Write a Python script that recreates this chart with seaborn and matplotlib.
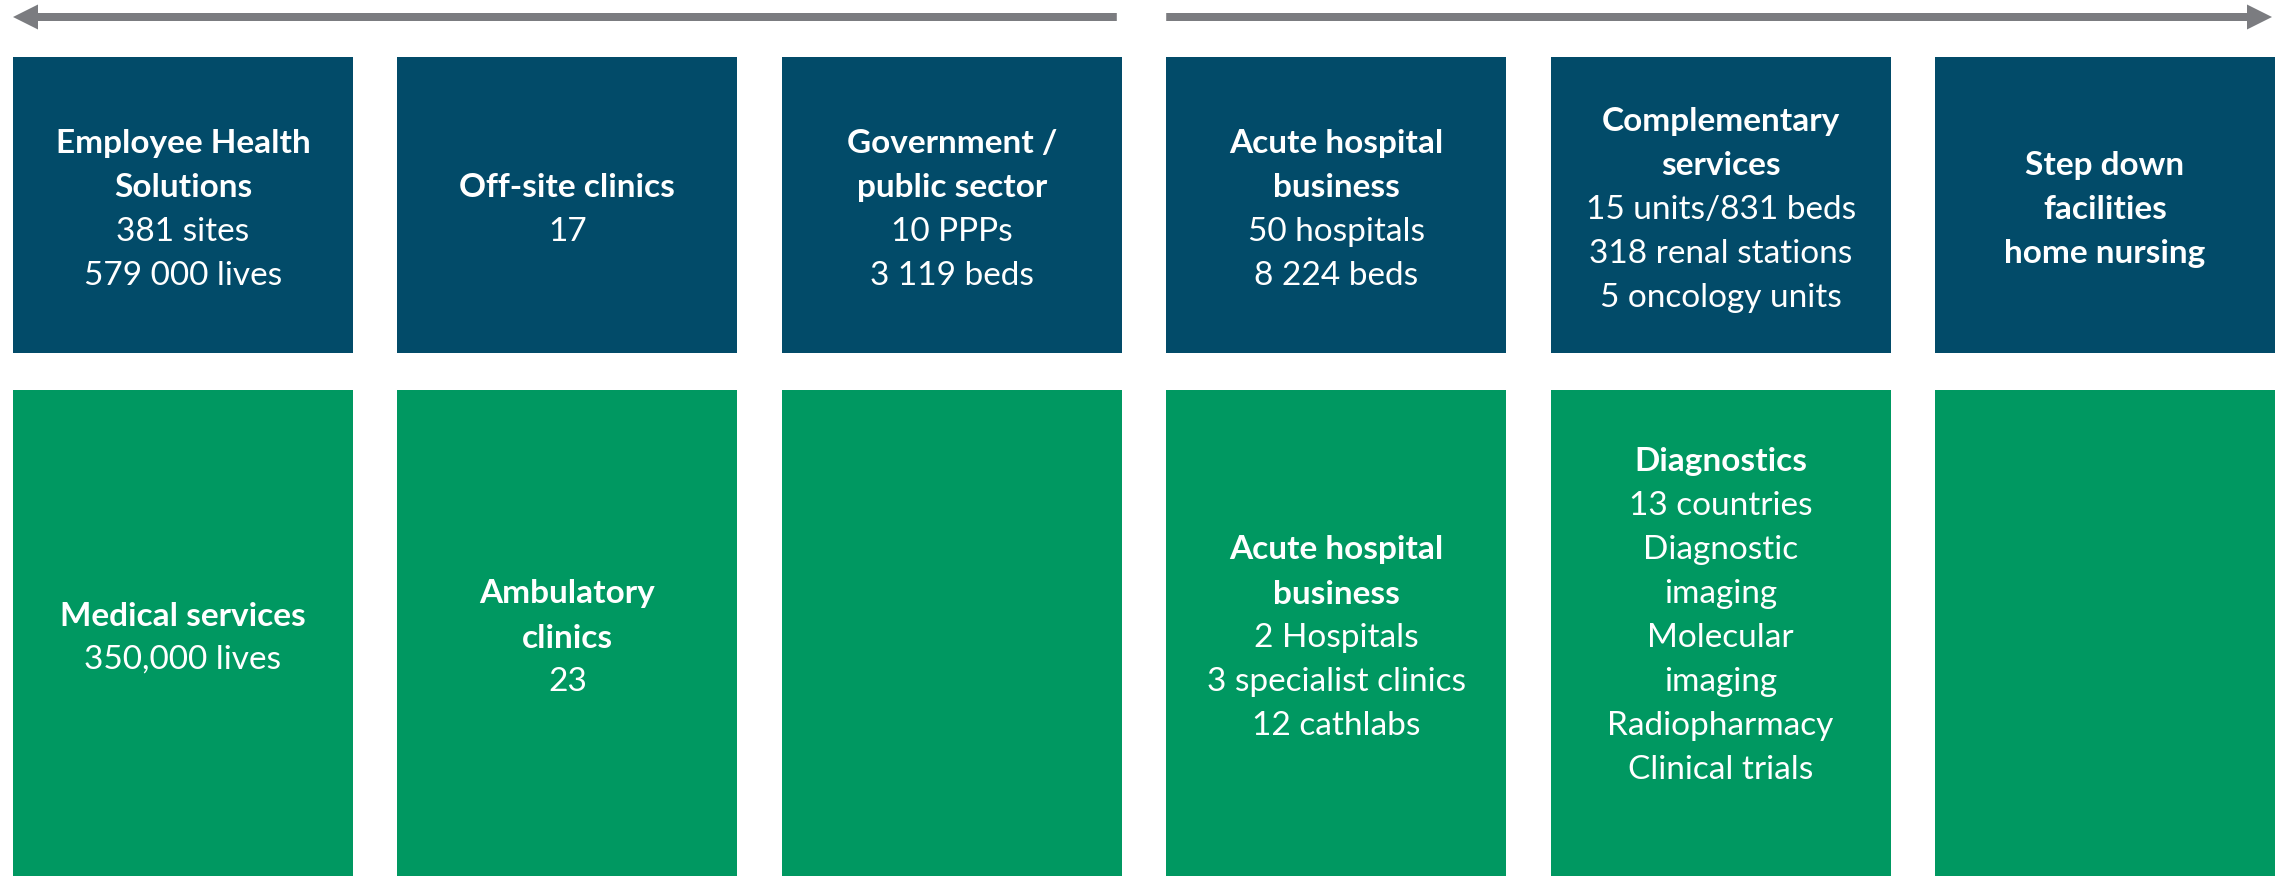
import matplotlib
matplotlib.use("Agg")
import matplotlib.pyplot as plt
from matplotlib.patches import FancyArrow
import seaborn as sns

# ---------------- data ----------------
columns = [0, 1, 2, 3, 4, 5]
top_titles = [
    ["Employee Health", "Solutions"],
    ["Off-site clinics"],
    ["Government /", "public sector"],
    ["Acute hospital", "business"],
    ["Complementary", "services"],
    ["Step down", "facilities", "home nursing"],
]
top_details = [
    ["381 sites", "579 000 lives"],
    ["17"],
    ["10 PPPs", "3 119 beds"],
    ["50 hospitals", "8 224 beds"],
    ["15 units/831 beds", "318 renal stations", "5 oncology units"],
    [],
]
bottom_titles = [
    ["Medical services"],
    ["Ambulatory", "clinics"],
    [],
    ["Acute hospital", "business"],
    ["Diagnostics"],
    [],
]
bottom_details = [
    ["350,000 lives"],
    ["23"],
    [],
    ["2 Hospitals", "3 specialist clinics", "12 cathlabs"],
    ["13 countries", "Diagnostic", "imaging", "Molecular", "imaging",
     "Radiopharmacy", "Clinical trials", ""],
    [],
]

# ---------------- style / layout ----------------
W, H = 2288, 876
DPI = 100
BLUE = "#024B69"
GREEN = "#009861"
GREY = "#7B7C80"
FONT = ["Lato", "DejaVu Sans"]
FS = 24
PITCH = 44.0
TEXT_DY = 5.0

X0 = 183.0          # centre of first column (px)
STEP = 384.4        # column pitch (px)
BOX_W = 340.0
TOP_Y0, TOP_Y1 = 57.0, 352.5
BOT_Y0, BOT_Y1 = 390.0, 880.0

sns.set_theme(style="white")
plt.rcParams["font.family"] = FONT

fig = plt.figure(figsize=(W / DPI, H / DPI), dpi=DPI)
ax = fig.add_axes([0, 0, 1, 1])
ax.set_xlim(0, W)
ax.set_ylim(H, 0)
ax.axis("off")

xc = [X0 + STEP * c for c in columns]

ax.bar(xc, [TOP_Y1 - TOP_Y0] * len(xc), bottom=TOP_Y0, width=BOX_W,
       color=BLUE, edgecolor="none", linewidth=0)
ax.bar(xc, [BOT_Y1 - BOT_Y0] * len(xc), bottom=BOT_Y0, width=BOX_W,
       color=GREEN, edgecolor="none", linewidth=0)


def put_lines(x, yc, titles, details):
    lines = [(t, "bold") for t in titles] + [(d, "normal") for d in details]
    n = len(lines)
    for k, (txt, wt) in enumerate(lines):
        y = yc + TEXT_DY + (k - (n - 1) / 2) * PITCH
        ax.text(x, y, txt, ha="center", va="center", color="white",
                fontsize=FS, fontweight=wt, family=FONT)


for i, x in enumerate(xc):
    put_lines(x, (TOP_Y0 + TOP_Y1) / 2, top_titles[i], top_details[i])
    put_lines(x, (BOT_Y0 + 876) / 2, bottom_titles[i], bottom_details[i])

# arrows
AY = 17
left_tail = xc[2] + BOX_W / 2 - 5
left_tip = xc[0] - BOX_W / 2
right_tail = xc[3] - BOX_W / 2
right_tip = xc[5] + BOX_W / 2 - 3
for tail, tip in [(left_tail, left_tip), (right_tail, right_tip)]:
    ax.add_patch(FancyArrow(tail, AY, tip - tail, 0, width=8, head_width=25,
                            head_length=25, length_includes_head=True,
                            color=GREY, linewidth=0))

fig.savefig("out.png", dpi=DPI, facecolor="white")
